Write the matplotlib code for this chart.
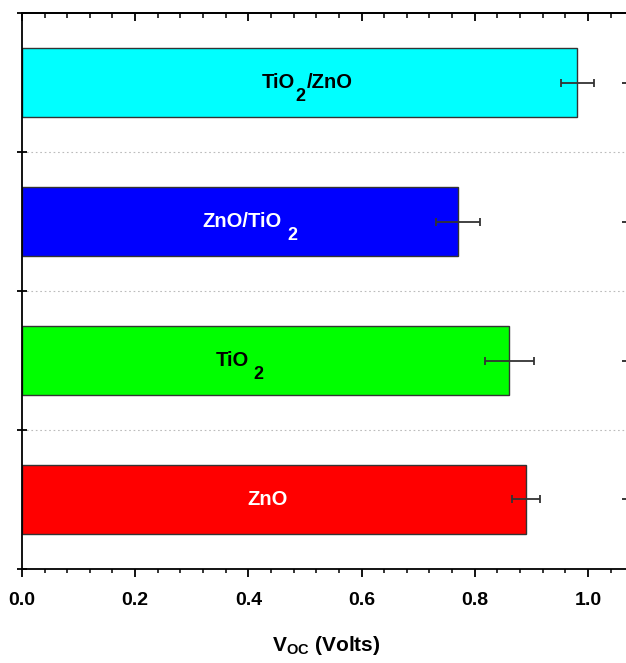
import numpy as np
import matplotlib as mpl
import matplotlib.pyplot as plt
from matplotlib.ticker import MultipleLocator, FormatStrFormatter

mpl.rcParams['font.family'] = ['Liberation Sans', 'DejaVu Sans']
mpl.rcParams['font.weight'] = 'bold'
mpl.rcParams['mathtext.fontset'] = 'custom'
mpl.rcParams['mathtext.rm'] = 'Liberation Sans:bold'
mpl.rcParams['mathtext.bf'] = 'Liberation Sans:bold'
mpl.rcParams['mathtext.it'] = 'Liberation Sans:bold'

# bottom to top; each label is (main part, subscript, rest)
label_parts = [('ZnO', '', ''),
               ('TiO', '2', ''),
               ('ZnO/TiO', '2', ''),
               ('TiO', '2', '/ZnO')]
voc = [0.891, 0.861, 0.771, 0.981]
voc_err = [0.025, 0.043, 0.039, 0.029]
colors = ['#ff0000', '#00ff00', '#0000ff', '#00ffff']
text_colors = ['white', 'black', 'white', 'black']

# label placement (left edge of text in data units, gap before subscript in pt)
label_x = [0.398, 0.343, 0.318, 0.424]
sub_gap = [0, 3.0, 4.5, 0.5]

fig = plt.figure(figsize=(6.26, 6.63), dpi=100)
ax = fig.add_axes([0.035, 0.142, 0.972, 0.838])

y = np.arange(len(voc))
ax.barh(y, voc, height=0.5, color=colors, edgecolor='#333333', linewidth=1.0, zorder=2)
ax.errorbar(voc, y, xerr=voc_err, fmt='none', ecolor='#333333', elinewidth=1.3,
            capsize=3.2, capthick=1.3, zorder=3)

for yi, parts, tc, lx, gap in zip(y, label_parts, text_colors, label_x, sub_gap):
    main, sub, rest = parts
    t1 = ax.text(lx, yi, main, ha='left', va='center', color=tc,
                 fontsize=14.5, fontweight='bold', zorder=4)
    if sub:
        t2 = ax.annotate(sub, xy=(1, 0), xycoords=t1, xytext=(gap, 3),
                         textcoords='offset points', ha='left', va='top',
                         color=tc, fontsize=13, fontweight='bold', zorder=4)
        if rest:
            ax.annotate(rest, xy=(1, 0), xycoords=(t2, t1), xytext=(0.5, 0),
                        textcoords='offset points', ha='left', va='bottom',
                        color=tc, fontsize=14.5, fontweight='bold', zorder=4)

ax.set_xlim(0, 1.075)
ax.set_ylim(-0.5, 3.5)

ax.xaxis.set_major_locator(MultipleLocator(0.2))
ax.xaxis.set_minor_locator(MultipleLocator(0.04))
ax.xaxis.set_major_formatter(FormatStrFormatter('%.1f'))
ax.tick_params(axis='x', which='major', direction='out', length=6, width=1.3,
               labelsize=14, pad=11)
ax.tick_params(axis='x', which='minor', direction='out', length=3, width=1.1)

# top axis with inward ticks
top = ax.secondary_xaxis('top')
top.xaxis.set_major_locator(MultipleLocator(0.2))
top.xaxis.set_minor_locator(MultipleLocator(0.04))
top.tick_params(axis='x', which='major', direction='in', length=6, width=1.3, labeltop=False)
top.tick_params(axis='x', which='minor', direction='in', length=3.5, width=1.1)
top.spines['top'].set_linewidth(1.3)

ax.set_yticks([-0.5, 0.5, 1.5, 2.5, 3.5])
ax.set_yticklabels([])
ax.tick_params(axis='y', which='major', direction='inout', length=7, width=1.3, right=False)
ax.set_yticks(y, minor=True)
ax.tick_params(axis='y', which='minor', direction='in', length=6, width=1.1,
               left=False, right=True)

for yl in [0.5, 1.5, 2.5]:
    ax.axhline(yl, color='#bbbbbb', linestyle=(0, (1.5, 2.5)), linewidth=0.8, zorder=1)

for side in ['left', 'bottom', 'top', 'right']:
    ax.spines[side].set_linewidth(1.3)

ax.set_xlabel('V$_{OC}$ (Volts)', fontsize=15, fontweight='bold', labelpad=18)

fig.savefig('out.png', dpi=100)
